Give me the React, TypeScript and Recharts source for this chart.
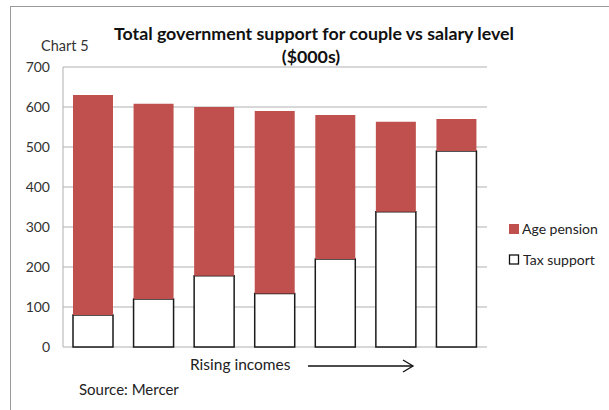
import { BarChart, Bar, XAxis, YAxis, CartesianGrid } from 'recharts';

const categories = ['1', '2', '3', '4', '5', '6', '7'];
const taxSupport = [80, 120, 178, 134, 220, 338, 490];
const agePension = [550, 488, 422, 456, 360, 225, 80];
const yTicks = [0, 100, 200, 300, 400, 500, 600, 700];

const data = categories.map((c, i) => ({ name: c, tax: taxSupport[i], pension: agePension[i] }));

const FONT = 'Lato, "Noto Sans", sans-serif';
const RED = '#c0504d';

export default function App() {
  return (
    <div style={{ position: 'absolute', left: 0, top: 0, width: 609, height: 410, background: '#fff', fontFamily: FONT, overflow: 'hidden' }}>
      {/* outer frame */}
      <div style={{ position: 'absolute', left: 10, top: 6, width: 700, height: 500, borderLeft: '1px solid #9a9a9a', borderTop: '1px solid #9a9a9a' }} />
      <BarChart
        width={609}
        height={410}
        data={data}
        margin={{ top: 67, right: 122, bottom: 63, left: 0 }}
        barSize={40}
        style={{ position: 'absolute', left: 0, top: 0 }}
      >
        <CartesianGrid vertical={false} stroke="#b0b0b0" />
        <XAxis dataKey="name" hide />
        <YAxis
          width={63}
          domain={[0, 700]}
          ticks={yTicks}
          interval={0}
          tickLine={false}
          tickSize={0}
          tickMargin={13}
          axisLine={{ stroke: '#b0b0b0' }}
          tick={{ fill: '#333', fontSize: 14, fontFamily: FONT }}
        />
        <Bar dataKey="tax" stackId="a" fill="#fff" stroke="#1a1a1a" strokeWidth={1.5} isAnimationActive={false} />
        <Bar dataKey="pension" stackId="a" fill={RED} isAnimationActive={false} />
      </BarChart>
      <svg width={609} height={410} style={{ position: 'absolute', left: 0, top: 0, pointerEvents: 'none' }}>
        <text x={314} y={40} textAnchor="middle" fontSize={17.8} fontWeight="bold" fill="#111" fontFamily={FONT}>
          Total government support for couple vs salary level
        </text>
        <text x={311} y={63} textAnchor="middle" fontSize={17.8} fontWeight="bold" fill="#111" fontFamily={FONT}>
          ($000s)
        </text>
        <text x={41} y={51} fontSize={14.5} fill="#333" fontFamily={FONT}>Chart 5</text>
        <text x={190} y={370} fontSize={15.5} fill="#222" fontFamily={FONT}>Rising incomes</text>
        <line x1={308} y1={366} x2={413} y2={366} stroke="#111" strokeWidth={1.3} />
        <polyline points="403,360 413,366 403,372" fill="none" stroke="#111" strokeWidth={1.3} />
        <text x={79} y={395} fontSize={15} fill="#222" fontFamily={FONT}>Source: Mercer</text>
        <rect x={509} y={224} width={10} height={10} fill={RED} />
        <text x={522} y={234} fontSize={14} fill="#222" fontFamily={FONT}>Age pension</text>
        <rect x={509.5} y={255} width={9} height={9} fill="#fff" stroke="#111" strokeWidth={1.3} />
        <text x={523} y={265} fontSize={14} fill="#222" fontFamily={FONT}>Tax support</text>
      </svg>
    </div>
  );
}
